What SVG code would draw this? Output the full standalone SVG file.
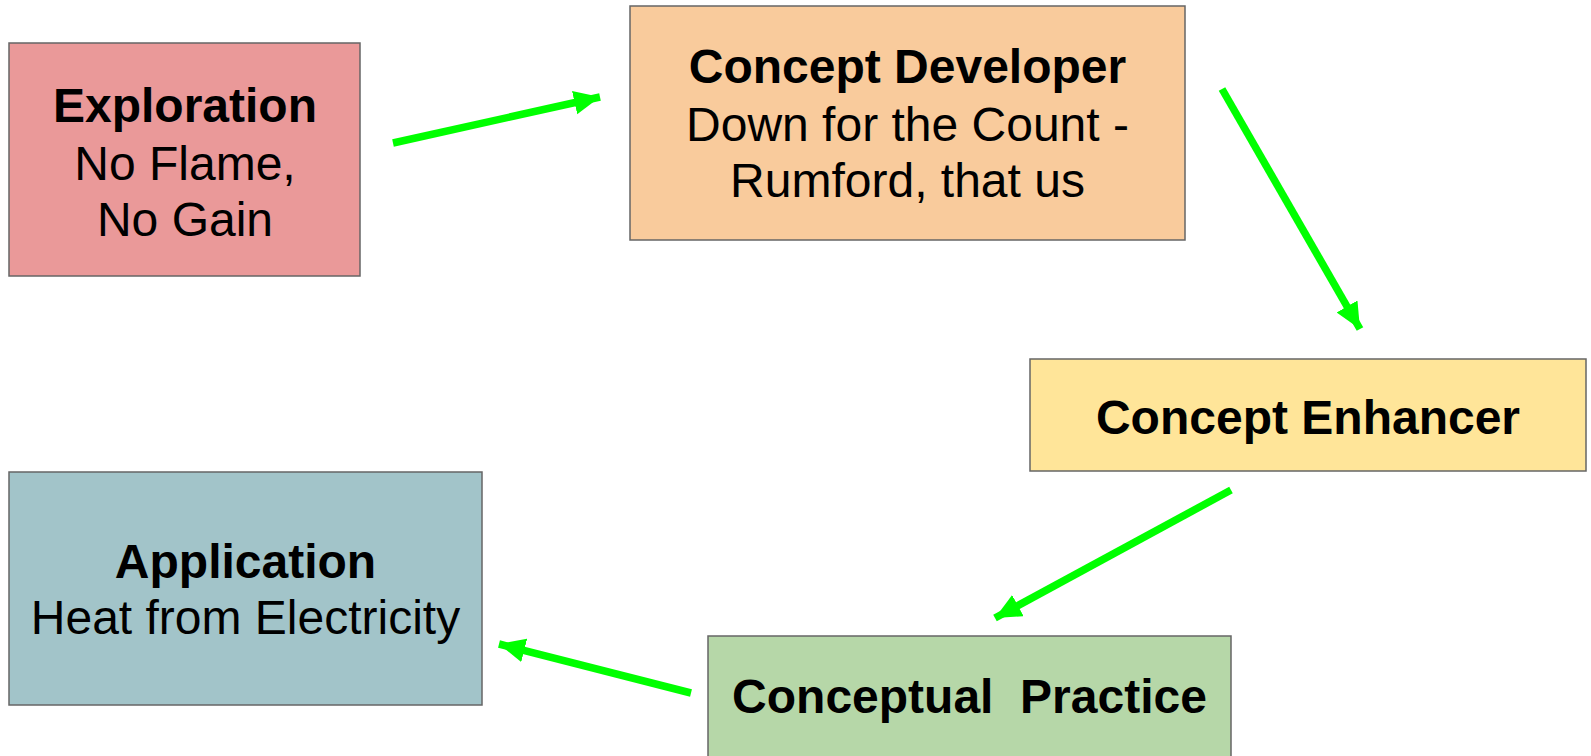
<svg xmlns="http://www.w3.org/2000/svg" width="1591" height="756" viewBox="0 0 1591 756">
<defs>
<style>
.box{stroke:#666666;stroke-width:1.5}
.t{font-family:"Liberation Sans",Arial,sans-serif;font-size:48px;fill:#000;text-anchor:middle}
.b{font-weight:bold}
.c{stroke:#00ff00;stroke-width:7.5;fill:none}
</style>
<marker id="ah" markerUnits="userSpaceOnUse" markerWidth="30" markerHeight="26" refX="26" refY="12" orient="auto">
<path d="M0,0 L26,12 L0,24 Z" fill="#00ff00"/>
</marker>
</defs>
<rect width="1591" height="756" fill="#ffffff"/>
<g id="connectors">
<line class="c" x1="393" y1="143" x2="600" y2="97" marker-end="url(#ah)"/>
<line class="c" x1="1222" y1="89" x2="1360" y2="329" marker-end="url(#ah)"/>
<line class="c" x1="1231" y1="490" x2="995" y2="618" marker-end="url(#ah)"/>
<line class="c" x1="691" y1="693" x2="499" y2="644" marker-end="url(#ah)"/>
</g>
<g id="exploration">
<rect class="box" x="9" y="43" width="351" height="233" fill="#ea9999"/>
<text class="t b" x="185" y="122">Exploration</text>
<text class="t" x="185" y="180">No Flame,</text>
<text class="t" x="185" y="236">No Gain</text>
</g>
<g id="concept-developer">
<rect class="box" x="630" y="6" width="555" height="234" fill="#f9cb9c"/>
<text class="t b" x="907.5" y="83">Concept Developer</text>
<text class="t" x="907.5" y="141">Down for the Count -</text>
<text class="t" x="907.5" y="197">Rumford, that us</text>
</g>
<g id="concept-enhancer">
<rect class="box" x="1030" y="359" width="556" height="112" fill="#ffe599"/>
<text class="t b" x="1308" y="434">Concept Enhancer</text>
</g>
<g id="application">
<rect class="box" x="9" y="472" width="473" height="233" fill="#a2c4c9"/>
<text class="t b" x="245.5" y="578">Application</text>
<text class="t" x="245.5" y="634">Heat from Electricity</text>
</g>
<g id="conceptual-practice">
<rect class="box" x="708" y="636" width="523" height="125" fill="#b6d7a8"/>
<text class="t b" x="969.5" y="713" xml:space="preserve">Conceptual  Practice</text>
</g>
</svg>
